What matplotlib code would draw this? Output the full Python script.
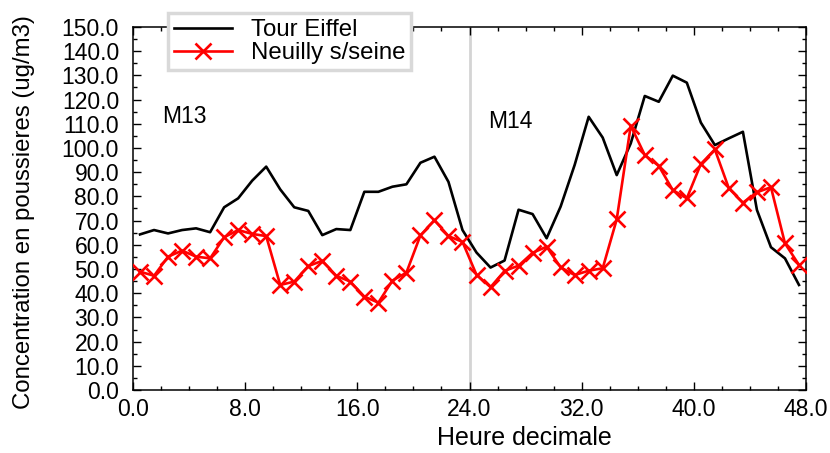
import numpy as np
import matplotlib

matplotlib.use('Agg')
import matplotlib.pyplot as plt
from matplotlib.ticker import MultipleLocator, FormatStrFormatter

plt.rcParams['font.family'] = ['Liberation Sans', 'DejaVu Sans']

# hourly samples, centred on the half hour
hours = np.arange(48) + 0.5

tour_eiffel = [64.3, 66.1, 64.7, 66.1, 66.8, 65.2, 75.5, 79.2, 86.5, 92.3,
               82.9, 75.5, 74.0, 64.0, 66.5, 66.1, 81.9, 81.9, 84.0, 85.0,
               93.9, 96.4, 86.0, 66.1, 56.8, 50.6, 53.5, 74.5, 72.7, 62.7,
               75.8, 93.0, 112.9, 104.3, 88.8, 101.9, 121.5, 119.1, 129.9, 127.0,
               110.5, 101.2, 104.0, 106.7, 74.4, 59.0, 54.4, 43.4]

neuilly = [48.9, 47.2, 55.1, 57.6, 55.1, 54.4, 63.1, 66.1, 64.5, 63.6,
           43.4, 44.8, 51.2, 53.4, 47.2, 44.8, 38.6, 36.1, 45.2, 48.5,
           63.9, 70.2, 63.6, 61.2, 47.6, 42.5, 49.2, 51.4, 56.7, 59.2,
           50.7, 47.5, 49.3, 50.3, 70.5, 109.2, 97.1, 92.6, 82.6, 79.2,
           93.4, 99.4, 83.3, 77.4, 81.7, 83.8, 60.6, 51.7]

fig = plt.figure(figsize=(8.3, 4.53), dpi=100)
ax = fig.add_axes([133 / 830, 1 - 390 / 453, 673 / 830, 363 / 453])

# day separator
ax.axvline(24.0, color='#d4d4d4', lw=2, zorder=1)

ax.plot(hours, tour_eiffel, color='black', lw=1.9, label='Tour Eiffel', zorder=3)
ax.plot(hours, neuilly, color='#ff0000', lw=1.9, marker='x', markersize=11,
        markeredgewidth=1.9, label='Neuilly s/seine', zorder=4)

ax.set_xlim(0, 48)
ax.set_ylim(0, 150)
ax.xaxis.set_major_locator(MultipleLocator(8))
ax.xaxis.set_minor_locator(MultipleLocator(2))
ax.yaxis.set_major_locator(MultipleLocator(10))
ax.yaxis.set_minor_locator(MultipleLocator(5))
ax.xaxis.set_major_formatter(FormatStrFormatter('%.1f'))
ax.yaxis.set_major_formatter(FormatStrFormatter('%.1f'))
ax.tick_params(which='both', direction='in', top=True, right=True,
               labelsize=16.5, width=1.0)
ax.tick_params(which='major', length=6)
ax.tick_params(which='minor', length=3)
ax.tick_params(axis='x', which='major', pad=6)
ax.tick_params(axis='y', which='major', pad=10)
for s in ax.spines.values():
    s.set_linewidth(1.1)

ax.set_xlabel('Heure decimale', fontsize=18)
ax.set_ylabel('Concentration en poussieres (ug/m3)', fontsize=17.3)
ax.xaxis.set_label_coords(0.582, -0.098)
ax.yaxis.set_label_coords(-0.145, 0.49)

ax.text(2.1, 110.4, 'M13', fontsize=16.5)
ax.text(25.3, 108.3, 'M14', fontsize=16.5)

leg = fig.legend(loc='upper left', bbox_to_anchor=(168 / 830, 1 - 13 / 453),
                 fontsize=17.3, fancybox=False, framealpha=1, borderpad=0.25,
                 handlelength=2.4, labelspacing=0.05, handletextpad=0.8,
                 borderaxespad=0)
leg.get_frame().set_edgecolor('#d9d9d9')
leg.get_frame().set_linewidth(2.5)

fig.savefig('out.png', dpi=100)
